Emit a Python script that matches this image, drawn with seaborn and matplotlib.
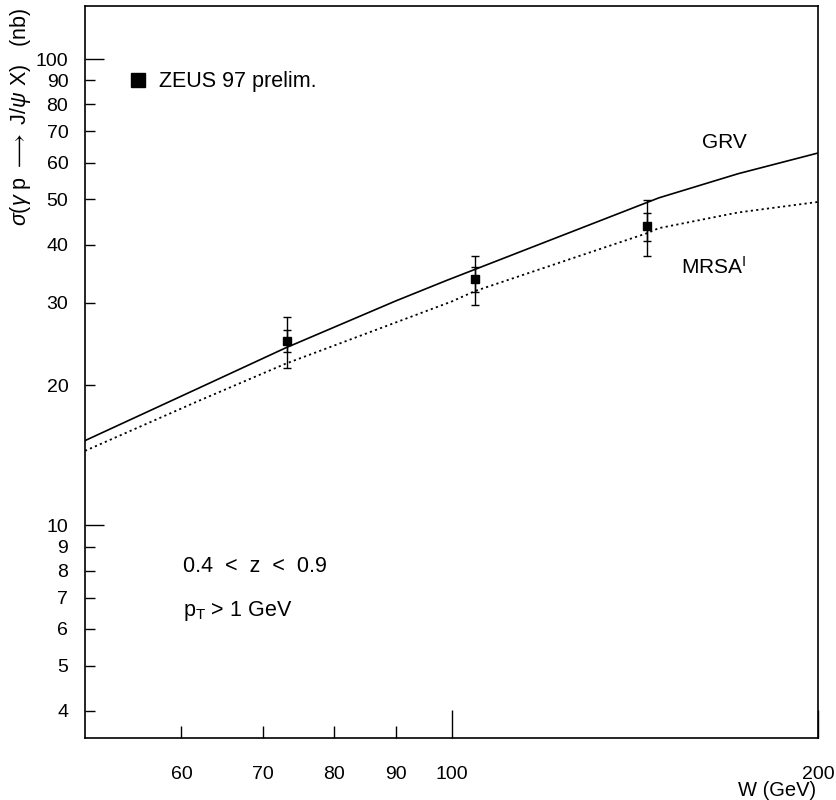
import numpy as np
import pandas as pd
import matplotlib
matplotlib.use("Agg")
import matplotlib.pyplot as plt
import matplotlib.ticker as mticker
import seaborn as sns

# ---- data ----
grv_w = [50, 62, 73, 90, 99, 148, 172, 200]
grv_sigma = [15.2, 19.7, 24.0, 30.3, 33.5, 50.4, 56.8, 62.9]

mrsa_w = [50, 62, 73, 100, 104.5, 145, 148, 172, 200]
mrsa_sigma = [14.45, 18.5, 22.2, 30.2, 31.8, 42.4, 43.4, 46.9, 49.4]

zeus_w = [73.2, 104.5, 144.7]
zeus_sigma = [24.9, 33.8, 43.8]
zeus_stat = [1.4, 2.1, 3.0]
zeus_tot = [3.1, 4.1, 6.0]

x_major = [100, 200]
x_minor = [60, 70, 80, 90]
y_major = [10, 100]
y_minor = [4, 5, 6, 7, 8, 9, 20, 30, 40, 50, 60, 70, 80, 90]

sns.set_theme(style="ticks")
plt.rcParams['font.family'] = ['Liberation Sans', 'DejaVu Sans']
plt.rcParams['mathtext.fontset'] = 'custom'
plt.rcParams['mathtext.rm'] = 'Liberation Sans'
plt.rcParams['mathtext.it'] = 'Liberation Sans:italic'
plt.rcParams['mathtext.sf'] = 'Liberation Sans'
for k in ['text.color', 'axes.labelcolor', 'xtick.color', 'ytick.color',
          'axes.edgecolor']:
    plt.rcParams[k] = 'black'

fig = plt.figure(figsize=(8.36, 8.0), dpi=100)
ax = fig.add_axes([85/836, 1 - 738/800, (818 - 85)/836, (738 - 6)/800])

df_grv = pd.DataFrame({"W": grv_w, "sigma": grv_sigma})
df_mrsa = pd.DataFrame({"W": mrsa_w, "sigma": mrsa_sigma})

sns.lineplot(data=df_grv, x="W", y="sigma", ax=ax, color="black", lw=1.2,
             estimator=None, sort=True)
sns.lineplot(data=df_mrsa, x="W", y="sigma", ax=ax, color="black", lw=1.3,
             estimator=None, sort=True, linestyle=(0, (1.2, 1.8)))

ax.errorbar(zeus_w, zeus_sigma, yerr=zeus_tot, fmt="none", ecolor="black",
            elinewidth=1.0, capsize=3.2, capthick=1.0)
ax.errorbar(zeus_w, zeus_sigma, yerr=zeus_stat, fmt="none", ecolor="black",
            elinewidth=1.0, capsize=3.2, capthick=1.0)
ax.plot(zeus_w, zeus_sigma, ls="none", marker="s", ms=5.5, color="black")

ax.set_xscale("log")
ax.set_yscale("log")
ax.set_xlim(50, 200)
ax.set_ylim(3.5, 130)

ax.xaxis.set_major_locator(mticker.FixedLocator(x_major))
ax.xaxis.set_minor_locator(mticker.FixedLocator(x_minor))
ax.yaxis.set_major_locator(mticker.FixedLocator(y_major))
ax.yaxis.set_minor_locator(mticker.FixedLocator(y_minor))
fmt = mticker.FuncFormatter(lambda v, p: f"{v:g}")
ax.xaxis.set_major_formatter(fmt)
ax.xaxis.set_minor_formatter(fmt)
ax.yaxis.set_major_formatter(fmt)
ax.yaxis.set_minor_formatter(fmt)

ax.tick_params(axis="x", which="major", direction="in", length=20, width=1.0,
               pad=20, labelsize=14, colors="black")
ax.tick_params(axis="x", which="minor", direction="in", length=9, width=1.0,
               pad=20, labelsize=14, colors="black")
ax.tick_params(axis="y", which="major", direction="in", length=14, width=1.0,
               pad=12, labelsize=14, colors="black")
ax.tick_params(axis="y", which="minor", direction="in", length=7, width=1.0,
               pad=12, labelsize=14, colors="black")
for s in ax.spines.values():
    s.set_visible(True)
    s.set_linewidth(1.2)
    s.set_color("black")
ax.set_xlabel("")
ax.set_ylabel("")
ax.grid(False)

# legend entry
ax.plot([(138 - 85) / 733], [(738 - 80) / 732], transform=ax.transAxes,
        marker="s", ms=9.5, color="black", ls="none", clip_on=False)
fig.text(159/836, 1 - 81/800, "ZEUS 97 prelim.", fontsize=15.5, va="center", ha="left")

fig.text(724/836, 1 - 143/800, "GRV", fontsize=15, va="center", ha="center")
fig.text(714/836, 1 - 267/800, r"MRSA$^{\mathsf{I}}$", fontsize=15, va="center", ha="center")
fig.text(183/836, 1 - 566/800, "0.4  <  z  <  0.9", fontsize=15.5, va="center", ha="left")
fig.text(183/836, 1 - 611/800, r"p$_{\mathsf{T}}$ > 1 GeV", fontsize=15.5, va="center", ha="left")

fig.text(21/836, 1 - 117/800,
         r"$\sigma$($\gamma$ p $\longrightarrow$ J/$\psi$ X)   (nb)",
         rotation=90, fontsize=15.5, va="center", ha="center")
fig.text(777/836, 1 - 791/800, "W (GeV)", fontsize=14.5, va="center", ha="center")

fig.savefig("out.png", dpi=100, facecolor="white")
